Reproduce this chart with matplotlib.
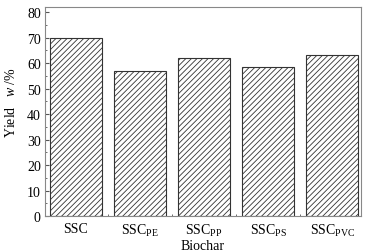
import matplotlib.pyplot as plt
from matplotlib.ticker import MultipleLocator

# yield of each biochar, w/%
labels = ['SSC', r'SSC$_{\mathrm{PE}}$', r'SSC$_{\mathrm{PP}}$', r'SSC$_{\mathrm{PS}}$', r'SSC$_{\mathrm{PVC}}$']
yields = [70.0, 57.0, 62.1, 58.5, 63.1]

plt.rcParams['font.family'] = ['Liberation Serif', 'DejaVu Serif']
plt.rcParams['mathtext.fontset'] = 'custom'
plt.rcParams['mathtext.rm'] = 'Liberation Serif'
plt.rcParams['mathtext.it'] = 'Liberation Serif:italic'
plt.rcParams['hatch.linewidth'] = 0.6

fig = plt.figure(figsize=(3.79, 2.53), dpi=100)
ax = fig.add_axes([45 / 379, 1 - 217 / 253, 316 / 379, 209 / 253])

x = range(len(yields))
ax.bar(x, yields, width=0.81, color='white', edgecolor='#333333',
       hatch='//////', linewidth=0.8)

ax.set_xlim(-0.48, 4.45)
ax.set_ylim(0, 82)
ax.set_xticks(list(x))
ax.set_xticklabels(labels)
ax.xaxis.set_minor_locator(MultipleLocator(0.5))
ax.yaxis.set_major_locator(MultipleLocator(10))
ax.yaxis.set_minor_locator(MultipleLocator(5))
ax.tick_params(which='both', direction='in', labelsize=10, color='#555555')
ax.tick_params(which='major', length=3, pad=3)
ax.tick_params(which='minor', length=1.5)
ax.tick_params(axis='x', which='major', length=0, pad=4)
for s in ax.spines.values():
    s.set_color('#888888')
    s.set_linewidth(0.8)

ax.set_xlabel('Biochar', fontsize=10, labelpad=1)
ax.set_ylabel(r'Yield   $w$ /%', fontsize=10)
ax.yaxis.set_label_coords(-27 / 316, (217 - 103) / 209)

fig.savefig('out.png', dpi=100)
